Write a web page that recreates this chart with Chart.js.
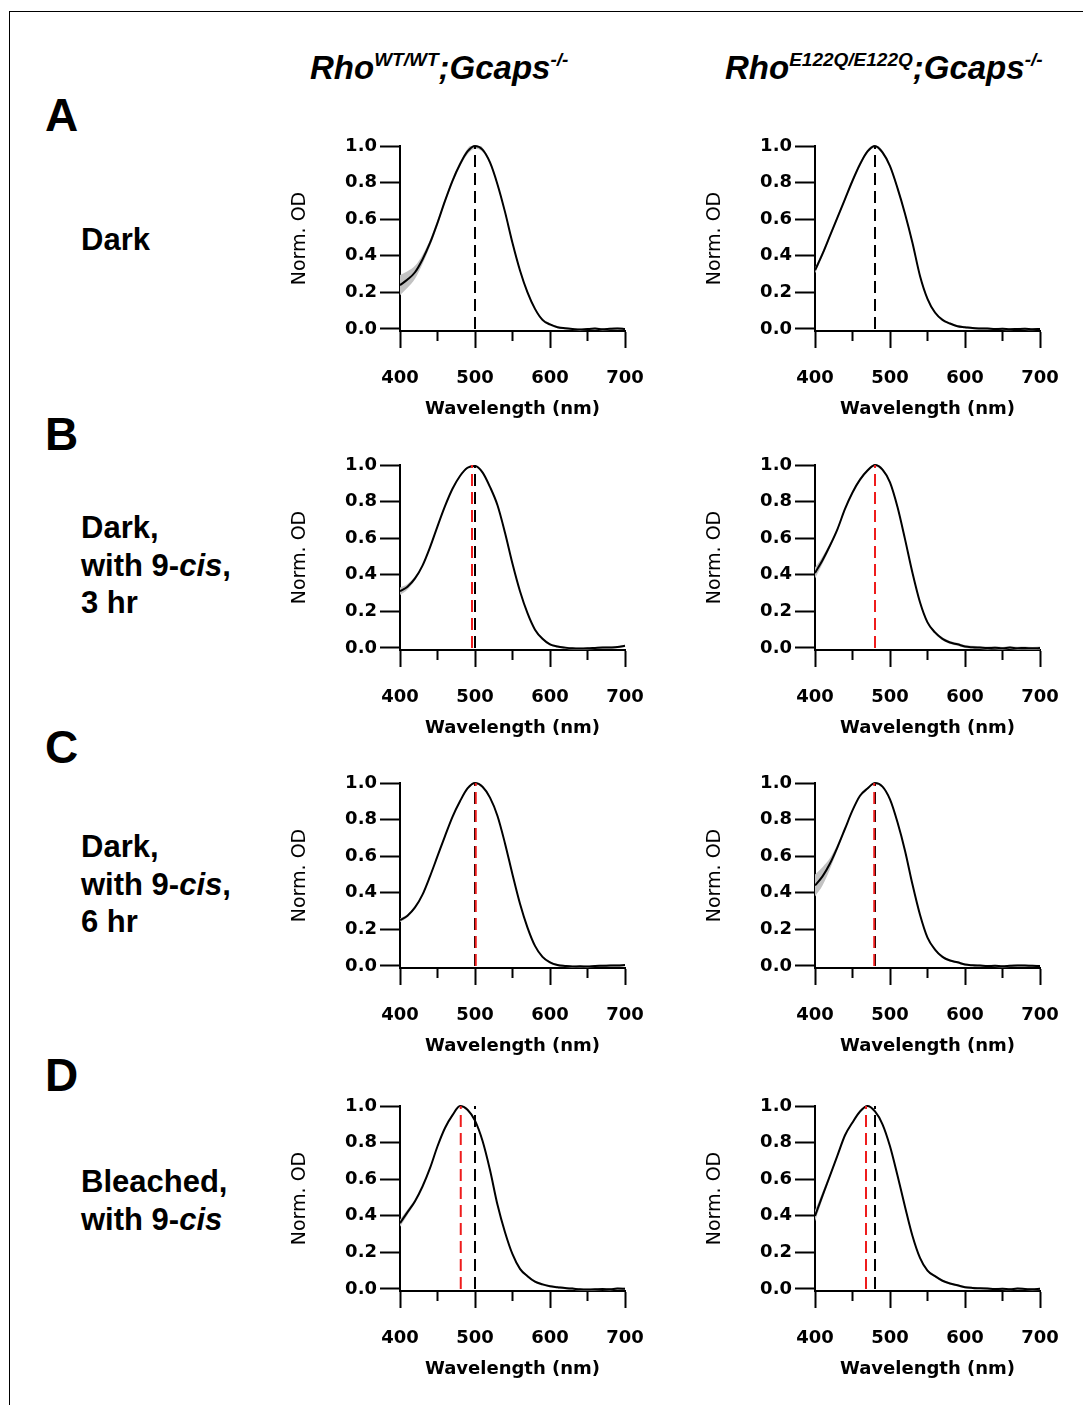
<!DOCTYPE html>
<html>
<head>
<meta charset="utf-8">
<script src="https://cdn.jsdelivr.net/npm/chart.js@4.4.1/dist/chart.umd.min.js"></script>
<style>
  body { margin: 0; background: #fff; width: 1083px; height: 1405px; position: relative; overflow: hidden;
         font-family: "Liberation Sans", Arial, sans-serif; color: #000; }
  .frame { position: absolute; left: 9px; top: 11px; width: 1200px; height: 1500px;
           border-left: 1px solid #000; border-top: 1px solid #000; }
  .panel { position: absolute; }
  .letter { position: absolute; left: 45px; font-weight: bold; font-size: 46px; line-height: 46px; }
  .cond { position: absolute; left: 81px; font-weight: bold; font-size: 31px; line-height: 37.5px; white-space: nowrap; }
  .head { position: absolute; top: 40px; font-weight: bold; font-style: italic;
          font-size: 33px; line-height: 40px; white-space: nowrap; }
  .head .sp { font-size: 19px; vertical-align: 13px; }
</style>
</head>
<body>
<div class="frame"></div>

<div class="head" style="left:310px">Rho<span class="sp">WT/WT</span>;Gcaps<span class="sp">-/-</span></div>
<div class="head" style="left:725px">Rho<span class="sp">E122Q/E122Q</span>;Gcaps<span class="sp">-/-</span></div>

<div class="letter" style="top:92px">A</div>
<div class="letter" style="top:411px">B</div>
<div class="letter" style="top:724px">C</div>
<div class="letter" style="top:1052px">D</div>

<div class="cond" style="top:221px">Dark</div>
<div class="cond" style="top:509px">Dark,<br>with 9-<i>cis</i>,<br>3 hr</div>
<div class="cond" style="top:828px">Dark,<br>with 9-<i>cis</i>,<br>6 hr</div>
<div class="cond" style="top:1163px">Bleached,<br>with 9-<i>cis</i></div>

<canvas id="aWT" class="panel" width="370" height="300" style="left:280px;top:131px"></canvas>
<canvas id="aEQ" class="panel" width="370" height="300" style="left:695px;top:131px"></canvas>
<canvas id="bWT" class="panel" width="370" height="300" style="left:280px;top:450px"></canvas>
<canvas id="bEQ" class="panel" width="370" height="300" style="left:695px;top:450px"></canvas>
<canvas id="cWT" class="panel" width="370" height="300" style="left:280px;top:768px"></canvas>
<canvas id="cEQ" class="panel" width="370" height="300" style="left:695px;top:768px"></canvas>
<canvas id="dWT" class="panel" width="370" height="300" style="left:280px;top:1091px"></canvas>
<canvas id="dEQ" class="panel" width="370" height="300" style="left:695px;top:1091px"></canvas>

<script>
// data (10 nm steps)
const wavelengths = [400,410,420,430,440,450,460,470,480,490,500,510,520,530,540,550,560,570,580,590,600,610,620,630,640,650,660,670,680,690,700];
const xTicks = [400, 500, 600, 700];
const xMinorTicks = [450, 550, 650];
const yTicks = [0, 0.2, 0.4, 0.6, 0.8, 1.0];

// A: dark
const wtDark       = [0.24,0.27,0.31,0.38,0.47,0.58,0.70,0.81,0.90,0.97,1.00,0.98,0.91,0.79,0.64,0.47,0.32,0.20,0.11,0.05,0.025,0.01,0.004,0.0,-0.003,0.0,0.002,-0.002,0.001,0.003,0.0];
const wtDarkSem    = [0.055,0.045,0.035,0.025,0.018,0.014,0.012,0.012,0.012,0.015,0.015,0.012,0.01,0.008,0.008,0.008,0.008,0.008,0.008,0.008,0.007,0.006,0.006,0.006,0.006,0.006,0.006,0.006,0.006,0.006,0.006];
const eqDark       = [0.32,0.41,0.51,0.61,0.71,0.81,0.90,0.97,1.00,0.965,0.89,0.77,0.63,0.47,0.29,0.165,0.09,0.05,0.03,0.015,0.01,0.005,0.003,0.002,0.0,0.001,-0.001,0.0,0.001,-0.001,0.0];
const eqDarkSem    = [0.015,0.012,0.01,0.01,0.01,0.01,0.01,0.01,0.01,0.01,0.01,0.01,0.01,0.01,0.008,0.008,0.008,0.006,0.006,0.006,0.006,0.006,0.006,0.006,0.006,0.006,0.006,0.006,0.006,0.006,0.006];
// B: dark, 9-cis 3 hr
const wt3hr        = [0.31,0.335,0.38,0.45,0.55,0.665,0.775,0.87,0.94,0.985,0.995,0.96,0.88,0.78,0.63,0.46,0.31,0.19,0.10,0.05,0.02,0.008,0.002,-0.002,-0.003,-0.002,0.0,0.002,0.003,0.005,0.012];
const wt3hrSem     = [0.02,0.015,0.01,0.006,0.006,0.006,0.006,0.006,0.006,0.006,0.006,0.006,0.006,0.006,0.006,0.006,0.006,0.006,0.006,0.006,0.006,0.006,0.006,0.006,0.006,0.006,0.006,0.006,0.006,0.006,0.006];
const eq3hr        = [0.41,0.48,0.56,0.65,0.76,0.85,0.92,0.97,1.00,0.975,0.905,0.77,0.595,0.41,0.25,0.14,0.085,0.05,0.03,0.02,0.008,0.004,0.002,0.0,0.001,-0.002,0.002,-0.001,0.0,-0.002,0.0];
const eq3hrSem     = [0.03,0.02,0.012,0.008,0.008,0.008,0.008,0.008,0.008,0.008,0.008,0.008,0.008,0.008,0.008,0.008,0.008,0.008,0.008,0.008,0.008,0.008,0.008,0.008,0.008,0.008,0.008,0.008,0.008,0.008,0.008];
// C: dark, 9-cis 6 hr
const wt6hr        = [0.25,0.275,0.32,0.39,0.49,0.60,0.71,0.815,0.90,0.97,1.00,0.98,0.92,0.82,0.67,0.50,0.34,0.21,0.11,0.05,0.02,0.005,0.0,-0.003,-0.002,-0.003,0.0,0.001,0.002,0.003,0.005];
const wt6hrSem     = [0.01,0.008,0.006,0.006,0.006,0.006,0.006,0.006,0.006,0.006,0.006,0.006,0.006,0.006,0.006,0.006,0.006,0.006,0.006,0.006,0.006,0.006,0.006,0.006,0.006,0.006,0.006,0.006,0.006,0.006,0.006];
const eq6hr        = [0.44,0.49,0.56,0.65,0.75,0.85,0.93,0.97,1.00,0.98,0.91,0.785,0.63,0.445,0.28,0.155,0.09,0.05,0.03,0.02,0.008,0.004,0.002,0.0,0.001,-0.002,0.001,0.003,0.002,0.001,0.0];
const eq6hrSem     = [0.06,0.05,0.03,0.015,0.008,0.006,0.006,0.006,0.006,0.006,0.006,0.006,0.006,0.006,0.006,0.006,0.006,0.006,0.006,0.006,0.006,0.006,0.006,0.006,0.006,0.006,0.006,0.006,0.006,0.006,0.006];
// D: bleached, with 9-cis
const wtBleach     = [0.36,0.42,0.48,0.56,0.66,0.78,0.88,0.95,1.00,0.98,0.92,0.81,0.65,0.46,0.31,0.19,0.11,0.07,0.04,0.025,0.015,0.01,0.005,0.002,-0.002,-0.003,-0.002,0.0,-0.002,0.002,0.001];
const wtBleachSem  = [0.02,0.015,0.01,0.006,0.006,0.006,0.006,0.006,0.006,0.006,0.006,0.006,0.006,0.006,0.006,0.006,0.006,0.006,0.006,0.006,0.006,0.006,0.006,0.006,0.006,0.006,0.006,0.006,0.006,0.006,0.006];
const eqBleach     = [0.40,0.51,0.62,0.73,0.84,0.91,0.97,1.00,0.97,0.90,0.78,0.62,0.45,0.29,0.17,0.10,0.07,0.045,0.03,0.02,0.01,0.006,0.004,0.002,0.0,0.001,-0.001,0.002,0.0,-0.002,0.001];
const eqBleachSem  = [0.03,0.02,0.01,0.006,0.006,0.006,0.006,0.006,0.006,0.006,0.006,0.006,0.006,0.006,0.006,0.006,0.006,0.006,0.006,0.006,0.006,0.006,0.006,0.006,0.006,0.006,0.006,0.006,0.006,0.006,0.006];

// peak wavelengths (black = dark-adapted, red = condition)
const darkPeakWT = 500;
const darkPeakEQ = 480;
const redPeaks = { bWT: 496, bEQ: 480, cWT: 501, cEQ: 479, dWT: 481, dEQ: 468 };

const TICK_FONT = '"DejaVu Sans", "Liberation Sans", sans-serif';

// short minor ticks on x at 450/550/650
const minorTicks = {
  id: 'minorTicks',
  afterDraw(chart) {
    const ctx = chart.ctx, x = chart.scales.x, bottom = chart.chartArea.bottom;
    ctx.save();
    ctx.strokeStyle = '#000';
    ctx.lineWidth = 2;
    xMinorTicks.forEach(v => {
      const px = x.getPixelForValue(v);
      ctx.beginPath();
      ctx.moveTo(px, bottom);
      ctx.lineTo(px, bottom + 10);
      ctx.stroke();
    });
    ctx.restore();
  }
};

function pts(arr) {
  return wavelengths.map((w, i) => ({ x: w, y: arr[i] }));
}

function vline(x, color, order) {
  return {
    data: [{ x: x, y: 0 }, { x: x, y: 1 }],
    borderColor: color, borderWidth: 2, borderDash: [12, 6],
    pointRadius: 0, fill: false, order: order, clip: 5
  };
}

function makeChart(id, mean, sem, darkPeak, redPeak) {
  const upper = mean.map((v, i) => v + sem[i]);
  const lower = mean.map((v, i) => v - sem[i]);
  const datasets = [
    { data: pts(upper), fill: '+1', backgroundColor: '#c2c2c2', borderWidth: 0, pointRadius: 0,
      cubicInterpolationMode: 'monotone', order: 4, clip: 5 },
    { data: pts(lower), fill: false, borderWidth: 0, pointRadius: 0,
      cubicInterpolationMode: 'monotone', order: 5, clip: 5 },
    { data: pts(mean), fill: false, borderColor: '#000', borderWidth: 2, pointRadius: 0,
      cubicInterpolationMode: 'monotone', order: 3, clip: 5 },
    vline(darkPeak, '#000', 2)
  ];
  if (redPeak != null) datasets.push(vline(redPeak, '#ee1c1c', 1));

  return new Chart(document.getElementById(id), {
    type: 'line',
    data: { datasets: datasets },
    plugins: [minorTicks],
    options: {
      responsive: false,
      animation: false,
      layout: { padding: { top: 15, right: 25, left: 0, bottom: 0 } },
      plugins: { legend: { display: false }, tooltip: { enabled: false } },
      scales: {
        x: {
          type: 'linear', min: 400, max: 700,
          afterBuildTicks: s => { s.ticks = xTicks.map(v => ({ value: v })); },
          afterFit: s => { s.height = 100; s.paddingLeft = 0; s.paddingRight = 0; },
          grid: { drawOnChartArea: false, tickLength: 17, tickWidth: 2, tickColor: '#000' },
          border: { color: '#000', width: 2 },
          ticks: { color: '#000', font: { family: TICK_FONT, size: 18, weight: 'bold' }, padding: 20,
                   maxRotation: 0, autoSkip: false },
          title: { display: true, text: 'Wavelength (nm)', color: '#000',
                   font: { family: TICK_FONT, size: 18, weight: 'bold' }, padding: 11 }
        },
        y: {
          type: 'linear', min: -0.011, max: 1,
          afterBuildTicks: s => { s.ticks = yTicks.map(v => ({ value: v })); },
          afterFit: s => { s.width = 120; s.paddingTop = 0; s.paddingBottom = 0; },
          grid: { drawOnChartArea: false, tickLength: 20, tickWidth: 2, tickColor: '#000' },
          border: { color: '#000', width: 2 },
          ticks: { color: '#000', font: { family: TICK_FONT, size: 18, weight: 'bold' }, padding: 3,
                   callback: v => v.toFixed(1) },
          title: { display: true, text: 'Norm. OD', color: '#000',
                   font: { family: TICK_FONT, size: 19, weight: 'normal' }, padding: 9 }
        }
      }
    }
  });
}

makeChart('aWT', wtDark, wtDarkSem, darkPeakWT, null);
makeChart('aEQ', eqDark, eqDarkSem, darkPeakEQ, null);
makeChart('bWT', wt3hr, wt3hrSem, darkPeakWT, redPeaks.bWT);
makeChart('bEQ', eq3hr, eq3hrSem, darkPeakEQ, redPeaks.bEQ);
makeChart('cWT', wt6hr, wt6hrSem, darkPeakWT, redPeaks.cWT);
makeChart('cEQ', eq6hr, eq6hrSem, darkPeakEQ, redPeaks.cEQ);
makeChart('dWT', wtBleach, wtBleachSem, darkPeakWT, redPeaks.dWT);
makeChart('dEQ', eqBleach, eqBleachSem, darkPeakEQ, redPeaks.dEQ);
</script>
</body>
</html>
